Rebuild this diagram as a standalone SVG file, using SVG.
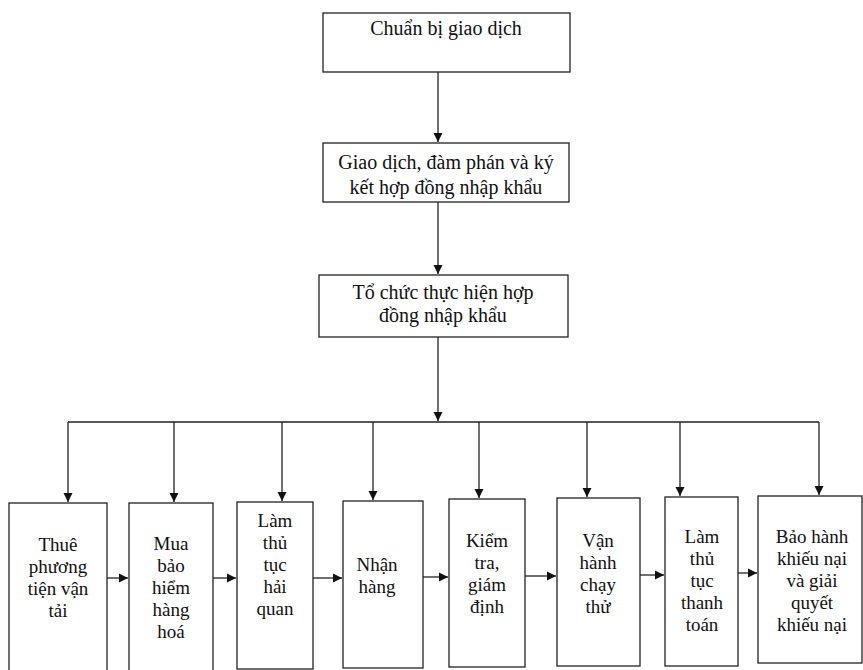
<svg xmlns="http://www.w3.org/2000/svg" width="863" height="670" viewBox="0 0 863 670">
<defs>
<marker id="ah" markerUnits="userSpaceOnUse" markerWidth="10" markerHeight="10" refX="9" refY="5" orient="auto">
<path d="M0,0.5 L9,5 L0,9.5 Z" fill="#111"/>
</marker>
<style>
.box{fill:#fff;stroke:#222;stroke-width:1.3}
.t{font-family:'Liberation Serif','DejaVu Serif',serif;font-size:20px;fill:#111;text-anchor:middle}
.s{font-family:'Liberation Serif','DejaVu Serif',serif;font-size:19px;fill:#111;text-anchor:middle}
.c{fill:none;stroke:#222;stroke-width:1.3}
</style>
</defs>
<rect width="863" height="670" fill="#fff"/>
<g id="connectors">
<path class="c" d="M438,72 V142" marker-end="url(#ah)"/>
<path class="c" d="M438,202 V274" marker-end="url(#ah)"/>
<path class="c" d="M438,337 V421" marker-end="url(#ah)"/>
<path class="c" d="M68,422 H819"/>
<path class="c" d="M68,422 V502" marker-end="url(#ah)"/>
<path class="c" d="M174,422 V502" marker-end="url(#ah)"/>
<path class="c" d="M282,422 V501" marker-end="url(#ah)"/>
<path class="c" d="M373,422 V500" marker-end="url(#ah)"/>
<path class="c" d="M479,422 V498" marker-end="url(#ah)"/>
<path class="c" d="M587,422 V497" marker-end="url(#ah)"/>
<path class="c" d="M680,422 V496" marker-end="url(#ah)"/>
<path class="c" d="M819,422 V495" marker-end="url(#ah)"/>
<path class="c" d="M107,578 H128" marker-end="url(#ah)"/>
<path class="c" d="M207,578 H236" marker-end="url(#ah)"/>
<path class="c" d="M313,578 H342" marker-end="url(#ah)"/>
<path class="c" d="M419,577 H448" marker-end="url(#ah)"/>
<path class="c" d="M525,576 H556" marker-end="url(#ah)"/>
<path class="c" d="M640,575 H664" marker-end="url(#ah)"/>
<path class="c" d="M738,573 H757" marker-end="url(#ah)"/>
</g>
<g id="n1"><rect class="box" x="323" y="13" width="247" height="59"/><text class="t" x="446" y="35">Chuẩn bị giao dịch</text></g>
<g id="n2"><rect class="box" x="323" y="143" width="246" height="59"/><text class="t" x="446" y="169">Giao dịch, đàm phán và ký</text><text class="t" x="446" y="194">kết hợp đồng nhập khẩu</text></g>
<g id="n3"><rect class="box" x="319" y="275" width="249" height="62"/><text class="t" x="443" y="299">Tổ chức thực hiện hợp</text><text class="t" x="443" y="322">đồng nhập khẩu</text></g>
<g id="b1"><rect class="box" x="9" y="503" width="98" height="168"/><text class="s" x="58" y="551">Thuê</text><text class="s" x="58" y="573">phương</text><text class="s" x="58" y="595">tiện vận</text><text class="s" x="58" y="617">tải</text></g>
<g id="b2"><rect class="box" x="129" y="503" width="84" height="168"/><text class="s" x="171" y="550">Mua</text><text class="s" x="171" y="572">bảo</text><text class="s" x="171" y="594">hiểm</text><text class="s" x="171" y="616">hàng</text><text class="s" x="171" y="638">hoá</text></g>
<g id="b3"><rect class="box" x="237" y="502" width="76" height="167"/><text class="s" x="275" y="527">Làm</text><text class="s" x="275" y="549">thủ</text><text class="s" x="275" y="571">tục</text><text class="s" x="275" y="593">hải</text><text class="s" x="275" y="615">quan</text></g>
<g id="b4"><rect class="box" x="343" y="501" width="80" height="167"/><text class="s" x="377" y="571">Nhận</text><text class="s" x="377" y="593">hàng</text></g>
<g id="b5"><rect class="box" x="449" y="499" width="76" height="168"/><text class="s" x="487" y="547">Kiểm</text><text class="s" x="487" y="569">tra,</text><text class="s" x="487" y="591">giám</text><text class="s" x="487" y="613">định</text></g>
<g id="b6"><rect class="box" x="557" y="498" width="83" height="168"/><text class="s" x="598" y="547">Vận</text><text class="s" x="598" y="569">hành</text><text class="s" x="598" y="591">chạy</text><text class="s" x="598" y="613">thử</text></g>
<g id="b7"><rect class="box" x="665" y="497" width="73" height="169"/><text class="s" x="702" y="543">Làm</text><text class="s" x="702" y="565">thủ</text><text class="s" x="702" y="587">tục</text><text class="s" x="702" y="609">thanh</text><text class="s" x="702" y="631">toán</text></g>
<g id="b8"><rect class="box" x="758" y="496" width="104" height="167"/><text class="s" x="812" y="543">Bảo hành</text><text class="s" x="812" y="565">khiếu nại</text><text class="s" x="812" y="587">và giải</text><text class="s" x="812" y="609">quyết</text><text class="s" x="812" y="631">khiếu nại</text></g>
</svg>
